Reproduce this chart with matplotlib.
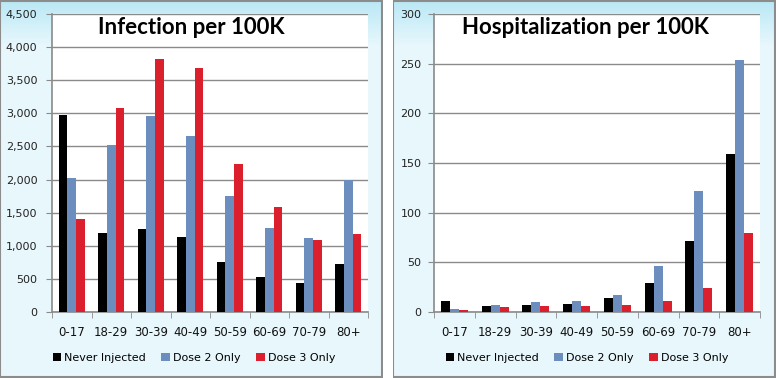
import numpy as np
import matplotlib.pyplot as plt
from matplotlib.patches import Rectangle
from matplotlib.ticker import FuncFormatter

# DATA
AGE_GROUPS = ["0-17", "18-29", "30-39", "40-49", "50-59", "60-69", "70-79", "80+"]
SERIES = ["Never Injected", "Dose 2 Only", "Dose 3 Only"]

infection_never = [2980, 1195, 1258, 1138, 760, 534, 443, 730]
infection_dose2 = [2030, 2527, 2965, 2663, 1757, 1273, 1122, 1988]
infection_dose3 = [1409, 3086, 3826, 3690, 2240, 1591, 1092, 1183]

hosp_never = [11.4, 6.4, 7.4, 8.4, 14.4, 29.5, 71.8, 159.4]
hosp_dose2 = [3.4, 7.4, 10.4, 11.4, 17.4, 46.6, 122, 254]
hosp_dose3 = [2.3, 5.4, 6.4, 6.4, 7.4, 11.4, 24.5, 80]

COLORS = ["#000000", "#6c8ebf", "#dc1f2d"]
GRID = "#8a8a8a"
W, H = 776, 378


def fx(px):
    return px / W


def fy(py):
    return 1 - py / H


fig = plt.figure(figsize=(W / 100, H / 100), dpi=100)
fig.patch.set_facecolor("white")


def panel_background(x0, x1):
    # light blue panel with a darker band fading in from the top
    bg = fig.add_axes([fx(x0), 0, fx(x1 - x0), 1], zorder=-5)
    t = np.linspace(0, 1, 200).reshape(-1, 1)
    top = np.array([0.73, 0.91, 0.96])
    base = np.array([0.91, 0.97, 0.99])
    mix = np.clip(t / 0.12, 0, 1)
    img = top[None, None, :] * (1 - mix[..., None]) + base[None, None, :] * mix[..., None]
    img = np.repeat(img, 2, axis=1)
    bg.imshow(img, aspect="auto", extent=[0, 1, 0, 1])
    bg.set_axis_off()
    bg.add_patch(Rectangle((0.001, 0.002), 0.997, 0.996, transform=bg.transAxes,
                           fill=False, edgecolor="#8c8c8c", lw=1.5))


def draw_chart(box, values, ymax, ystep, title, title_x, legend_x, ypad, fmt):
    left, right, top, bottom = box
    ax = fig.add_axes([fx(left), fy(bottom), fx(right - left), fy(top) - fy(bottom)])
    ax.set_facecolor("white")
    x = np.arange(len(AGE_GROUPS))
    bw = 0.22
    for i, (vals, name, col) in enumerate(zip(values, SERIES, COLORS)):
        ax.bar(x + (i - 1) * bw, vals, bw, color=col, label=name, zorder=3, linewidth=0)
    ax.set_xlim(-0.5, len(AGE_GROUPS) - 0.5)
    ax.set_ylim(0, ymax)
    ax.set_yticks(np.arange(0, ymax + 1, ystep))
    ax.yaxis.set_major_formatter(FuncFormatter(fmt))
    ax.yaxis.grid(True, color=GRID, lw=1, zorder=0)
    ax.set_xticks(x)
    ax.set_xticklabels(AGE_GROUPS, fontsize=8.5, color="#111111")
    ax.set_xticks(np.arange(-0.5, len(AGE_GROUPS)), minor=True)
    ax.tick_params(axis="x", which="major", length=0, pad=10)
    ax.tick_params(axis="x", which="minor", length=4, color=GRID, direction="out")
    ax.tick_params(axis="y", length=4, color=GRID, labelsize=8, labelcolor="#222222", pad=ypad)
    for s in ["top", "right"]:
        ax.spines[s].set_visible(False)
    for s in ["left", "bottom"]:
        ax.spines[s].set_color(GRID)
        ax.spines[s].set_linewidth(1.2)
    fig.text(fx(title_x), fy(27), title, ha="center", va="center",
             fontsize=16, fontweight="bold", family="Lato")
    ax.legend(loc="center", bbox_to_anchor=(fx(legend_x), fy(358)),
              bbox_transform=fig.transFigure, ncol=3, frameon=False,
              fontsize=8, handlelength=0.75, handleheight=0.75,
              handletextpad=0.3, columnspacing=1.4, borderaxespad=0)
    return ax


panel_background(0, 383)
panel_background(393, 776)

draw_chart((52, 368, 14, 312), [infection_never, infection_dose2, infection_dose3],
           4500, 500, "Infection per 100K", 191, 194, 6.5,
           lambda v, p: f"{int(v):,}")
draw_chart((434, 760, 14, 312), [hosp_never, hosp_dose2, hosp_dose3],
           300, 50, "Hospitalization per 100K", 586, 587, 5,
           lambda v, p: f"{int(v)}")

fig.savefig("out.png", dpi=100)
